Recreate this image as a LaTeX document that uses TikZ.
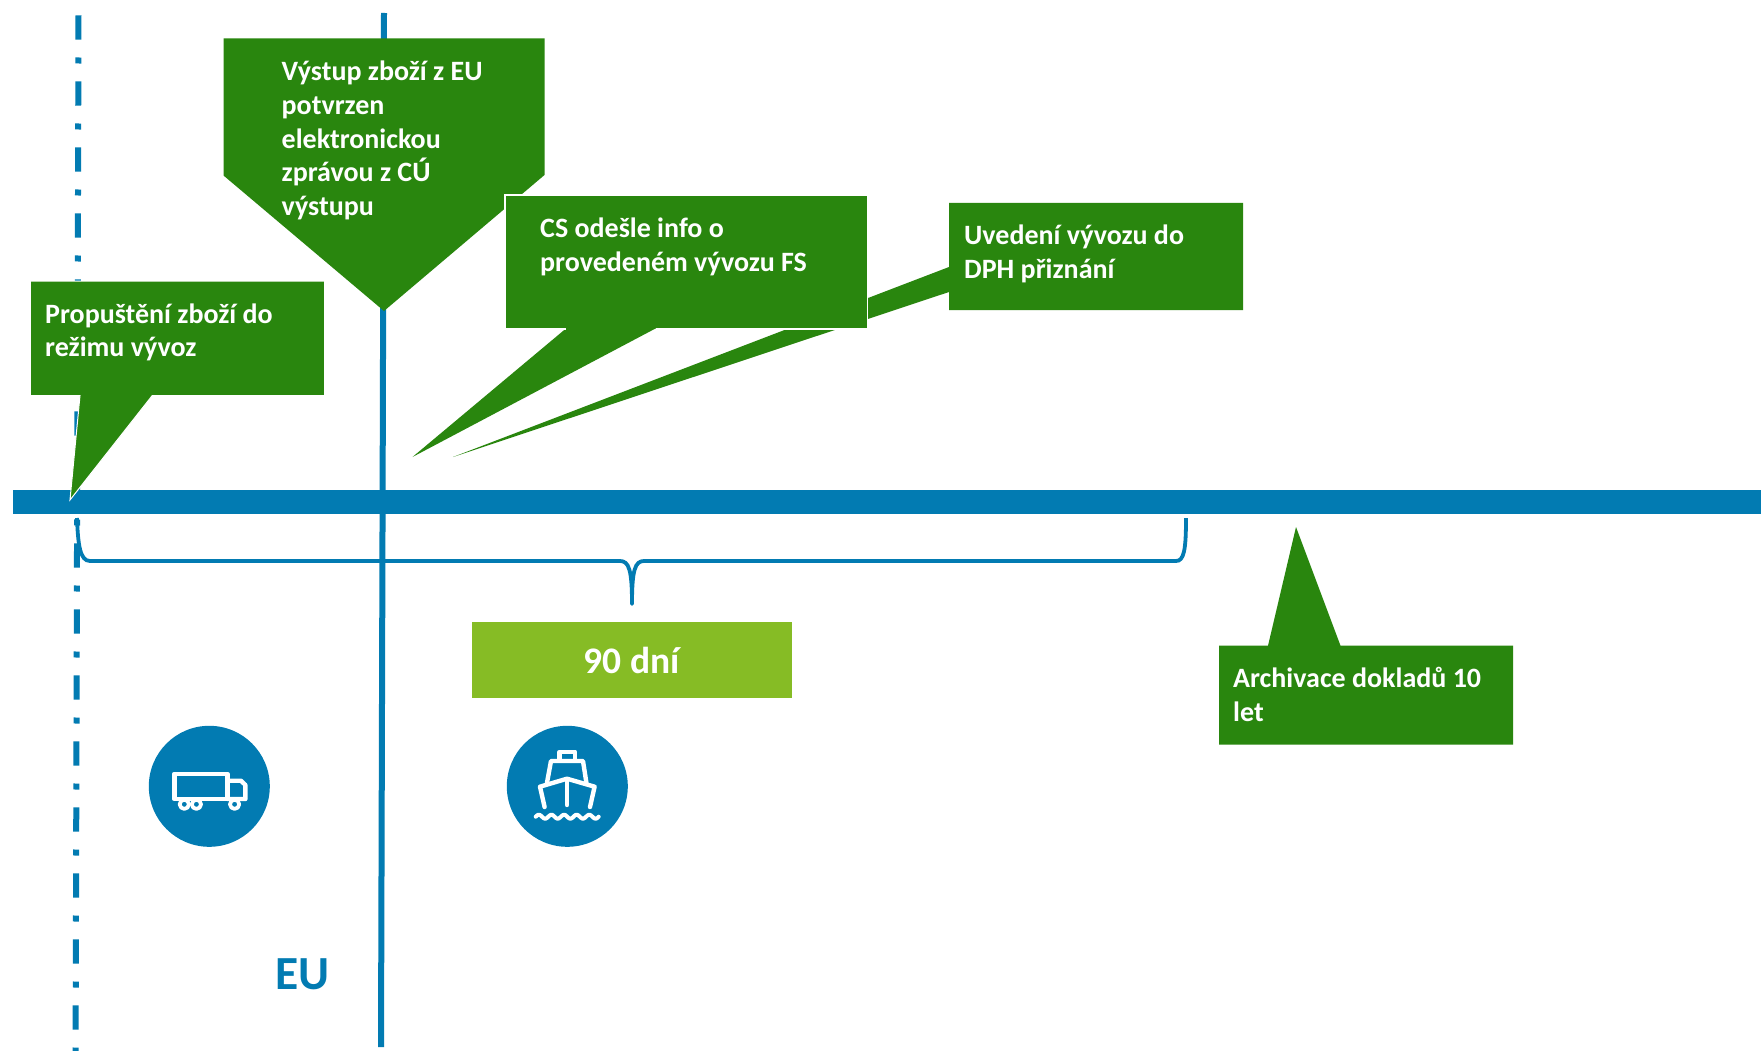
\documentclass[tikz,border=0pt]{standalone}
\usepackage{fontspec}
\setmainfont{Carlito}
\definecolor{callgreen}{HTML}{29860E}
\definecolor{linkblue}{HTML}{027BB2}
\definecolor{limegreen}{HTML}{86BC25}
\tikzset{
  callout/.style={fill=callgreen,draw=white,line width=1pt,line join=miter},
  calltext/.style={anchor=north west,inner sep=0pt,text=white,align=left,
    font=\fontsize{28}{33.7}\selectfont\bfseries},
  blueline/.style={draw=linkblue,line width=6pt},
  bracket/.style={draw=linkblue,line width=3.8pt,line cap=butt},
  iconline/.style={draw=white,line width=4.4pt,line join=round,line cap=round},
  disc/.style={circle,fill=linkblue,minimum size=121pt,inner sep=0pt}
}
\begin{document}
\begin{tikzpicture}[x=1pt,y=-1pt]
\useasboundingbox (0,0) rectangle (1761,1051);
\fill[white] (0,0) rectangle (1761,1051);
% boundary lines
\coordinate (dashtop) at (78.5,15.3);
\coordinate (dashbot) at (75.6,1051);
\coordinate (soltop) at (384,13);
\coordinate (solbot) at (381,1047);
\draw[blueline,dash pattern=on 24.4pt off 17.8pt on 6pt off 17.8pt] (dashtop) -- (dashbot);
\draw[blueline] (soltop) -- (solbot);
% time bar
\fill[linkblue] (13,490) rectangle (1761,514);
% bracket
\coordinate (brL) at (77,518);
\coordinate (brM) at (632,604);
\coordinate (brR) at (1186,518);
\draw[bracket] (brL) .. controls (78,545) and (80,561) .. (90,561) -- (620,561)
  .. controls (629,561) and (632,570) .. (brM);
\draw[bracket] (brM) .. controls (632,570) and (635,561) .. (644,561) -- (1176,561)
  .. controls (1184,561) and (1186,550) .. (brR);
\fill[linkblue] (brM) circle[radius=1.9];
% callout: exit from the EU
\path[fill=callgreen] (223.5,38.5) -- (544.5,38.5) -- (544.5,175) -- (384,311) -- (223.5,175.5) -- cycle;
\node[calltext] (exit) at (281.5,61) {Výstup zboží z EU\\potvrzen\\elektronickou\\zprávou z CÚ\\výstupu};
% callout: VAT return (behind CS box)
\path[fill=callgreen] (949,203) -- (1243,203) -- (1243,310) -- (949,310) -- (949,292) -- (453,457) -- (949,267) -- cycle;
\node[calltext] (vat) at (964,225) {Uvedení vývozu do\\DPH přiznání};
% callout: CS
\path[fill=callgreen] (505.5,195.5) -- (867,195.5) -- (867,328.5) -- (655.5,328.5) -- (412.5,457) -- (566,328.5) -- (505.5,328.5) -- cycle;
\draw[draw=white,line width=1.5pt] (655.5,329) -- (867.7,329) -- (867.7,195) -- (505,195) -- (505,329) -- (566,329);
\node[calltext] (cs) at (540,218) {CS odešle info o\\provedeném vývozu FS};
% callout: release
\path[callout] (30.3,281) -- (324.7,281) -- (324.7,395.5) -- (152.3,395.5) -- (70,500) -- (80,395.5) -- (30.3,395.5) -- cycle;
\node[calltext] (rel) at (45,303.3) {Propuštění zboží do\\režimu vývoz};
% callout: archive
\path[fill=callgreen] (1296,527) -- (1340.5,645.7) -- (1513,645.7) -- (1513,744.5) -- (1219,744.5) -- (1219,645.7) -- (1268,645.7) -- cycle;
\node[calltext] (arch) at (1233,667) {Archivace dokladů 10\\let};
% 90 days
\node[fill=limegreen,minimum width=320pt,minimum height=76pt,inner sep=0pt,text=white,
  font=\fontsize{37.5}{44}\selectfont\bfseries] (days) at (631.7,660) {90 dní};
% EU
\node[anchor=base west,inner sep=0pt,text=linkblue,font=\fontsize{47.5}{52}\selectfont\bfseries] (eu) at (275,989) {EU};
% truck
\node[disc] (truck) at (209.3,786.3) {};
\draw[iconline] (174.3,773.7) rectangle (227.5,799);
\draw[iconline] (227.5,780.7) -- (241,780.7) -- (245.4,785) -- (245.4,799) -- (227.5,799);
\draw[iconline,line width=3.8pt] (184.3,804.3) circle[radius=4.6];
\draw[iconline,line width=3.8pt] (196.4,804.3) circle[radius=4.6];
\draw[iconline,line width=3.8pt] (234.6,804.3) circle[radius=4.6];
% ship
\node[disc] (ship) at (567.3,786.3) {};
\draw[iconline] (559.6,760) -- (559.6,751.7) -- (575,751.7) -- (575,760);
\draw[iconline] (547,782.7) -- (551,761) -- (583,761) -- (586.4,782.7);
\draw[iconline] (544.6,807) -- (540,786.7) -- (567,778.7) -- (594.6,786.7) -- (590,807);
\draw[iconline] (567,780) -- (567,805);
\draw[iconline,line width=4pt] plot[smooth,domain=0:63,samples=50] ({535.7+\x},{816.7-2*sin(\x/12.6*360)});
\end{tikzpicture}
\end{document}
